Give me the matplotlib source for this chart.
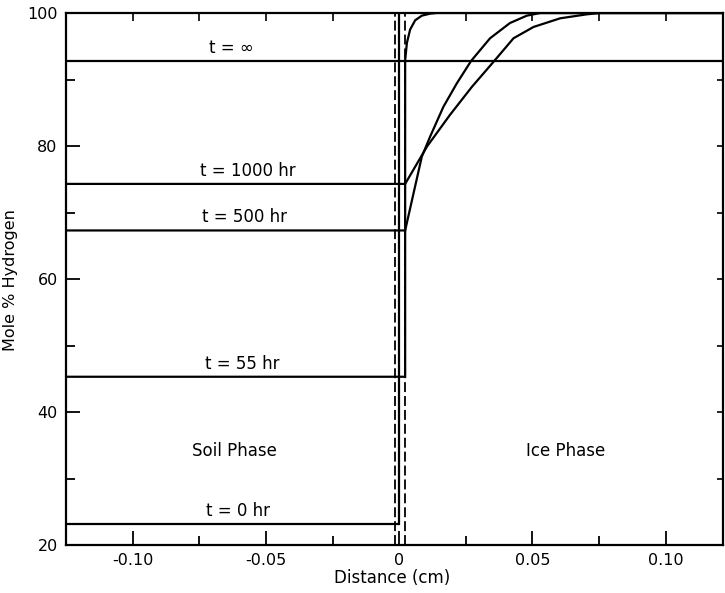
import matplotlib
matplotlib.use("Agg")
import matplotlib.pyplot as plt
from matplotlib.ticker import FixedLocator

# ---- data ----
x_min, x_max = -0.125, 0.1215
y_min, y_max = 20, 100

t0_x = [-0.125, 0.0, 0.0]
t0_y = [23.2, 23.2, 100.0]

t55_x = [-0.125, 0.00225, 0.00225, 0.0029, 0.0041, 0.0060, 0.0085, 0.0116, 0.0141, 0.1215]
t55_y = [45.3, 45.3, 92.9, 95.5, 97.5, 98.9, 99.6, 99.9, 100.0, 100.0]

t500_x = [-0.125, 0.00225, 0.0054, 0.0085, 0.0116, 0.0166, 0.0216, 0.0270, 0.0341, 0.0416, 0.0479, 0.0529, 0.1215]
t500_y = [67.3, 67.3, 72.9, 78.4, 81.4, 85.9, 89.4, 92.8, 96.2, 98.5, 99.6, 100.0, 100.0]

t1000_x = [-0.125, 0.00225, 0.0104, 0.0191, 0.0273, 0.0357, 0.0429, 0.0504, 0.0604, 0.0704, 0.0754, 0.1215]
t1000_y = [74.3, 74.3, 79.9, 84.7, 88.9, 92.8, 96.2, 97.9, 99.2, 99.8, 100.0, 100.0]

tinf_x = [-0.125, 0.1215]
tinf_y = [92.8, 92.8]

interface_x = [-0.0015, 0.00225]

curve_labels = ["t = \u221e", "t = 1000 hr", "t = 500 hr", "t = 55 hr", "t = 0 hr"]
label_x = [-0.063, -0.0566, -0.0581, -0.0589, -0.0604]
label_y = [92.8, 74.3, 67.3, 45.3, 23.2]

phase_labels = ["Soil Phase", "Ice Phase"]
phase_x = [-0.0619, 0.0626]
phase_y = [34.1, 34.1]

x_major = [-0.10, -0.05, 0.0, 0.05, 0.10]
x_major_labels = ["-0.10", "-0.05", "0", "0.05", "0.10"]
x_minor = [-0.075, -0.025, 0.025, 0.075]
x_top = [-0.10, -0.075, -0.05, -0.025, 0.025, 0.05, 0.075, 0.10]
y_major = [20, 40, 60, 80, 100]
y_minor = [30, 50, 70, 90]
y_right = [30, 40, 50, 60, 70, 80, 90]

# ---- figure ----
plt.rcParams['font.family'] = ['DejaVu Sans']
fig = plt.figure(figsize=(7.25, 5.93), dpi=100)
ax = fig.add_axes([66 / 725, 1 - 545 / 593, 657 / 725, 532 / 593])

lw = 1.6
for xs, ys in [(t0_x, t0_y), (t55_x, t55_y), (t500_x, t500_y), (t1000_x, t1000_y), (tinf_x, tinf_y)]:
    ax.plot(xs, ys, color='black', lw=lw, solid_joinstyle='miter')

for xv in interface_x:
    ax.axvline(xv, color='black', lw=1.3, dashes=(5.5, 2.2))

for s, xv, yv in zip(curve_labels, label_x, label_y):
    ax.text(xv, yv + 0.6, s, ha='center', va='bottom', fontsize=12)
for s, xv, yv in zip(phase_labels, phase_x, phase_y):
    ax.text(xv, yv, s, ha='center', va='center', fontsize=12)

ax.set_xlim(x_min, x_max)
ax.set_ylim(y_min, y_max)

ax.xaxis.set_major_locator(FixedLocator(x_major))
ax.set_xticklabels(x_major_labels)
ax.xaxis.set_minor_locator(FixedLocator(x_minor))
ax.yaxis.set_major_locator(FixedLocator(y_major))
ax.yaxis.set_minor_locator(FixedLocator(y_minor))

ax.tick_params(which='major', direction='in', length=10, width=1.3, labelsize=11.5, pad=6)
ax.tick_params(which='minor', direction='in', length=6.5, width=1.3)

secx = ax.secondary_xaxis('top')
secx.xaxis.set_major_locator(FixedLocator(x_top))
secx.tick_params(direction='in', length=5.5, width=1.2, labeltop=False)
secx.spines['top'].set_visible(False)
secy = ax.secondary_yaxis('right')
secy.yaxis.set_major_locator(FixedLocator(y_right))
secy.tick_params(direction='in', length=4.3, width=1.2, labelright=False)
secy.spines['right'].set_visible(False)

for sp in ax.spines.values():
    sp.set_linewidth(1.6)

ax.set_xlabel("Distance (cm)", fontsize=12)
ax.set_ylabel("Mole % Hydrogen", fontsize=11.5)
ax.xaxis.set_label_coords(0.496, -0.045)
ax.yaxis.set_label_coords(-0.073, 0.498)

fig.savefig("out.png", dpi=100)
